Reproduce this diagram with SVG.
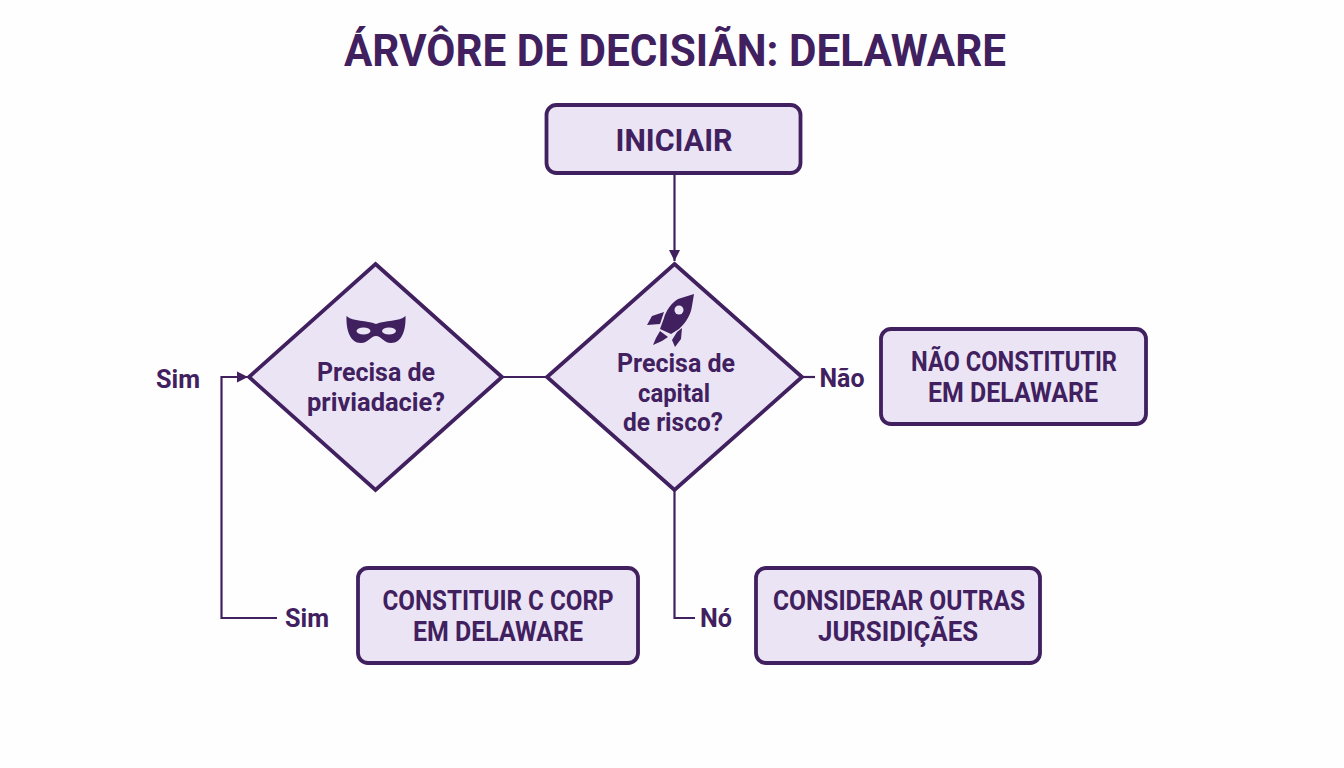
<svg xmlns="http://www.w3.org/2000/svg" width="1344" height="768" viewBox="0 0 1344 768">
<style>
.n{fill:#ebe4f4;stroke:#41205f;stroke-width:3.8;stroke-linejoin:round}
.d{fill:#ebe4f4;stroke:#41205f;stroke-width:3.8;stroke-linejoin:miter}
.c{fill:none;stroke:#41205f;stroke-width:2.2}
text{font-family:Roboto,"Liberation Sans",sans-serif;font-weight:700;fill:#41205f;text-anchor:middle}
.b{font-size:28px}
.q{font-size:26px}
.l{font-size:25px}
.i{fill:#41205f}
.h{fill:#ebe4f4}
</style>
<defs><marker id="a" markerWidth="12" markerHeight="12" refX="11" refY="6" orient="auto" markerUnits="userSpaceOnUse"><path d="M0 0.500L11 6L0 11.500Z" fill="#41205f"/></marker></defs>
<rect width="1344" height="768" fill="#fefefe"/>
<text id="title" x="675" y="65.500" font-size="45" textLength="662" lengthAdjust="spacingAndGlyphs">ÁRVÔRE DE DECISIÃN: DELAWARE</text>
<g id="connectors">
<path class="c" d="M674.500 174V261" marker-end="url(#a)"/>
<path class="c" d="M502 377H548"/>
<path class="c" d="M802 377H815"/>
<path class="c" d="M277 618H221.500V377H248" marker-end="url(#a)"/>
<path class="c" d="M674.500 490V618H695"/>
</g>
<g id="start"><rect class="n" x="546.500" y="105" width="254" height="68" rx="10"/><text class="b" x="674" y="150.500" font-size="31" style="font-size:31px" textLength="117" lengthAdjust="spacingAndGlyphs">INICIAIR</text></g>
<g id="privacy"><path class="d" d="M375.500 264L502 377L375.500 490L249 377Z"/>
<path class="i" d="M346.500 316C353 322 367 320 376 324C385 320 399 322 405.500 316C406 330 402 343 391 343C384 343 381 336 376 336C371 336 368 343 361 343C350 343 346 330 346.500 316Z"/>
<ellipse class="h" cx="363.500" cy="331" rx="7" ry="3.500"/><ellipse class="h" cx="389" cy="331" rx="7" ry="3.500"/>
<text class="q" x="376" y="381" textLength="118" lengthAdjust="spacingAndGlyphs">Precisa de</text><text class="q" x="376" y="411" textLength="138" lengthAdjust="spacingAndGlyphs">priviadacie?</text></g>
<g id="vc"><path class="d" d="M674.500 264L802 377L674.500 490L547 377Z"/>
<path class="i" d="M694 294L678 299C671 303 666 311 664 318L660 329L671 334L679 329C686 323 691 314 692 306Z"/>
<path class="i" d="M664 312L652 316L647 325L660 324ZM677 332L672 340L675 347L681 339L682 328Z"/>
<path class="i" d="M660 331L668 337L662 341L653 345L656 338Z"/>
<circle class="h" cx="679" cy="310" r="4.500"/>
<text class="q" x="676" y="372" textLength="118" lengthAdjust="spacingAndGlyphs">Precisa de</text><text class="q" x="674" y="402" textLength="72" lengthAdjust="spacingAndGlyphs">capital</text><text class="q" x="673" y="431" textLength="100" lengthAdjust="spacingAndGlyphs">de risco?</text></g>
<g id="no-delaware"><rect class="n" x="881" y="329" width="265" height="95" rx="10"/><text class="b" x="1014" y="371" textLength="206" lengthAdjust="spacingAndGlyphs">NÃO CONSTITUTIR</text><text class="b" x="1013" y="402" textLength="170" lengthAdjust="spacingAndGlyphs">EM DELAWARE</text></g>
<g id="ccorp"><rect class="n" x="358" y="568" width="280" height="95" rx="10"/><text class="b" x="498" y="610" textLength="231" lengthAdjust="spacingAndGlyphs">CONSTITUIR C CORP</text><text class="b" x="498" y="641" textLength="170" lengthAdjust="spacingAndGlyphs">EM DELAWARE</text></g>
<g id="other"><rect class="n" x="756" y="568" width="284" height="95" rx="10"/><text class="b" x="899" y="610" textLength="252" lengthAdjust="spacingAndGlyphs">CONSIDERAR OUTRAS</text><text class="b" x="898" y="641" textLength="160" lengthAdjust="spacingAndGlyphs">JURSIDIÇÃES</text></g>
<g id="labels"><text class="l" x="178" y="388" textLength="44" lengthAdjust="spacingAndGlyphs">Sim</text><text class="l" x="842" y="387" textLength="45" lengthAdjust="spacingAndGlyphs">Não</text><text class="l" x="307" y="627" textLength="44" lengthAdjust="spacingAndGlyphs">Sim</text><text class="l" x="716" y="627" textLength="32" lengthAdjust="spacingAndGlyphs">Nó</text></g>
</svg>
